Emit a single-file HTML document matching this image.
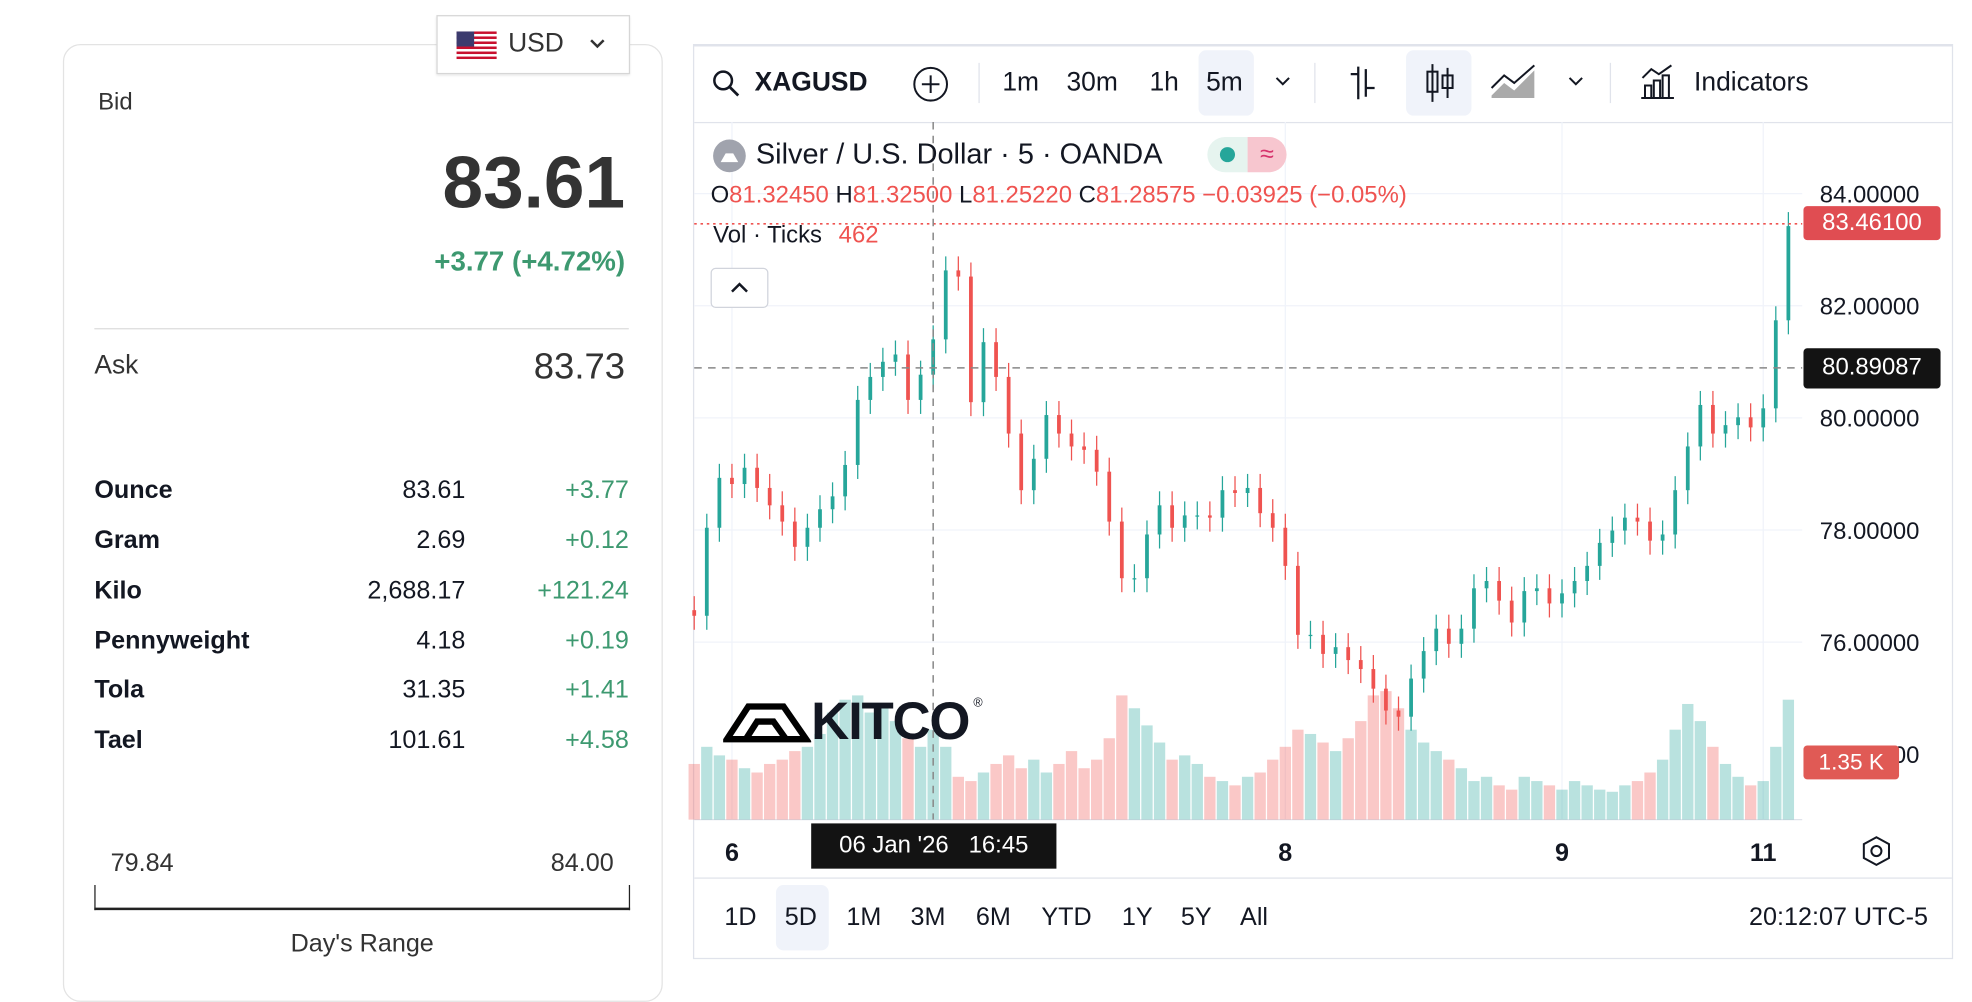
<!DOCTYPE html>
<html><head><meta charset="utf-8">
<style>
html,body{margin:0;padding:0;background:#fff;overflow:hidden;width:1972px;height:978px}
#root{position:absolute;left:0;top:0;width:1568px;height:778px;transform-origin:0 0;transform:scale(1.25765,1.2571);font-family:"Liberation Sans",sans-serif;color:#131722}
.abs{position:absolute;white-space:nowrap}
.r{text-align:right}
.g{color:#3d9970}
.card{position:absolute;left:50px;top:35px;width:475px;height:760px;border:1px solid #e3e3e3;border-radius:14px}
.row{position:absolute;left:75px;width:425px;height:24px;font-size:20px}
.row b{position:absolute;left:0}
.row .v{position:absolute;right:130px}
.row .c{position:absolute;right:0;color:#3d9970}
.tb{position:absolute;top:40px;height:52px;line-height:52px;font-size:21px}
.sep{position:absolute;top:50px;width:1px;height:32px;background:#e0e3eb}
.bt{position:absolute;top:704px;height:52px;line-height:52px;font-size:20px}
</style></head><body>
<div id="root">
 <div class="card"></div>
 <div class="abs" style="left:347px;top:12px;width:152px;height:45px;border:1px solid #d6d6d6;background:#fff;box-shadow:0 1px 2px rgba(0,0,0,.1)">
  <svg style="position:absolute;left:15px;top:12px" width="32" height="22"><rect width="32" height="22" fill="#fff"/><g fill="#c8102e"><rect y="0" width="32" height="2"/><rect y="4" width="32" height="2"/><rect y="8" width="32" height="2"/><rect y="12" width="32" height="2"/><rect y="16" width="32" height="2"/><rect y="20" width="32" height="2"/></g><rect width="14" height="12" fill="#3c3b6e"/></svg>
  <span class="abs" style="left:56px;top:10px;font-size:21px;color:#333">USD</span>
  <svg style="position:absolute;left:120px;top:17px" width="14" height="10"><path d="M2 2 L7 7 L12 2" stroke="#333" stroke-width="2" fill="none"/></svg>
 </div>
 <div class="abs" style="left:78px;top:71px;font-size:19px;color:#333">Bid</div>
 <div class="abs r" style="right:1071px;top:112px;font-size:58px;font-weight:bold;color:#333">83.61</div>
 <div class="abs r g" style="right:1071px;top:195px;font-size:22px;font-weight:bold">+3.77 (+4.72%)</div>
 <div class="abs" style="left:75px;top:261px;width:425px;height:1px;background:#ddd"></div>
 <div class="abs" style="left:75px;top:279px;font-size:21px;color:#333">Ask</div>
 <div class="abs r" style="right:1071px;top:276px;font-size:29px;color:#333">83.73</div>
 <div class="row" style="top:379px"><b>Ounce</b><span class="v">83.61</span><span class="c">+3.77</span></div>
 <div class="row" style="top:419px"><b>Gram</b><span class="v">2.69</span><span class="c">+0.12</span></div>
 <div class="row" style="top:459px"><b>Kilo</b><span class="v">2,688.17</span><span class="c">+121.24</span></div>
 <div class="row" style="top:499px"><b>Pennyweight</b><span class="v">4.18</span><span class="c">+0.19</span></div>
 <div class="row" style="top:538px"><b>Tola</b><span class="v">31.35</span><span class="c">+1.41</span></div>
 <div class="row" style="top:578px"><b>Tael</b><span class="v">101.61</span><span class="c">+4.58</span></div>
 <div class="abs" style="left:88px;top:676px;font-size:20px;color:#333">79.84</div>
 <div class="abs r" style="right:1080px;top:676px;font-size:20px;color:#333">84.00</div>
 <div class="abs" style="left:75px;top:704px;width:424px;height:18px;border:1px solid #222;border-top:none;border-bottom:2px solid #222"></div>
 <div class="abs" style="left:188px;width:200px;text-align:center;top:740px;font-size:20px;color:#333">Day's Range</div>

 <div class="abs" style="left:551px;top:35px;width:1000px;height:725px;border:1px solid #e0e3eb;border-top:2px solid #e0e3eb"></div>
 <div class="abs" style="left:552px;top:97px;width:1000px;height:1px;background:#e0e3eb"></div>
 <div class="abs" style="left:552px;top:698px;width:1000px;height:1px;background:#e0e3eb"></div>
 <svg class="abs" style="left:566px;top:55px" width="24" height="24"><circle cx="9" cy="9" r="7" stroke="#131722" stroke-width="2" fill="none"/><path d="M14 14 L21 21" stroke="#131722" stroke-width="2.2"/></svg>
 <div class="tb" style="left:600px;font-weight:bold">XAGUSD</div>
 <svg class="abs" style="left:725px;top:52px" width="30" height="30"><circle cx="15" cy="15" r="13" stroke="#131722" stroke-width="1.6" fill="none"/><path d="M15 8 V22 M8 15 H22" stroke="#131722" stroke-width="1.6"/></svg>
 <div class="sep" style="left:778px"></div>
 <div class="tb" style="left:797px">1m</div>
 <div class="tb" style="left:848px">30m</div>
 <div class="tb" style="left:914px">1h</div>
 <div class="abs" style="left:953px;top:40px;width:44px;height:52px;background:#f0f3fa;border-radius:6px"></div>
 <div class="tb" style="left:959px">5m</div>
 <svg class="abs" style="left:1013px;top:60px" width="14" height="10"><path d="M2 2 L7 7 L12 2" stroke="#131722" stroke-width="1.6" fill="none"/></svg>
 <div class="sep" style="left:1045px"></div>
 <svg class="abs" style="left:1070px;top:50px" width="30" height="32"><path d="M10 3 V29 M4 9 H10 M16 5 V27 M16 20 H23" stroke="#131722" stroke-width="1.8" fill="none"/></svg>
 <div class="abs" style="left:1118px;top:40px;width:52px;height:52px;background:#f0f3fa;border-radius:6px"></div>
 <svg class="abs" style="left:1130px;top:48px" width="30" height="36"><path d="M9 3 V33 M21 6 V30" stroke="#131722" stroke-width="1.6"/><rect x="5" y="9" width="8" height="16" fill="none" stroke="#131722" stroke-width="1.6"/><rect x="17" y="12" width="8" height="10" fill="none" stroke="#131722" stroke-width="1.6"/></svg>
 <svg class="abs" style="left:1184px;top:50px" width="40" height="30"><path d="M2 26 L12 16 L20 22 L36 6 L36 28 L2 28 Z" fill="#555" opacity=".5"/><path d="M2 20 L12 10 L20 16 L36 2" stroke="#131722" stroke-width="1.6" fill="none"/></svg>
 <svg class="abs" style="left:1246px;top:60px" width="14" height="10"><path d="M2 2 L7 7 L12 2" stroke="#131722" stroke-width="1.6" fill="none"/></svg>
 <div class="sep" style="left:1280px"></div>
 <svg class="abs" style="left:1303px;top:50px" width="30" height="30"><path d="M2 28 H28 M5 28 V18 H10 V28 M12 28 V14 H17 V28 M19 28 V10 H24 V28 M3 12 L10 5 L16 9 L26 2" stroke="#131722" stroke-width="1.6" fill="none"/></svg>
 <div class="tb" style="left:1347px">Indicators</div>

 <svg class="abs" id="chart" style="left:0;top:0" width="1568" height="778"></svg>

 <svg class="abs" style="left:566px;top:110px" width="28" height="28"><circle cx="14" cy="14" r="13" fill="#a0a3ad"/><path d="M7 19 L11 12 H17 L21 19 Z" fill="#fff"/></svg>
 <div class="abs" style="left:601px;top:109px;font-size:23px">Silver / U.S. Dollar · 5 · OANDA</div>
 <div class="abs" style="left:960px;top:109px;width:32px;height:28px;background:#e6f4ef;border-radius:14px 0 0 14px"><div style="position:absolute;left:10px;top:8px;width:12px;height:12px;border-radius:6px;background:#26a69a"></div></div>
 <div class="abs" style="left:992px;top:109px;width:31px;height:28px;background:#f7c6cf;border-radius:0 14px 14px 0;color:#d6336c;font-size:20px;text-align:center;line-height:28px">≈</div>
 <div class="abs" style="left:565px;top:145px;font-size:19px;color:#131722">O<span style="color:#ef5350">81.32450</span> H<span style="color:#ef5350">81.32500</span> L<span style="color:#ef5350">81.25220</span> C<span style="color:#ef5350">81.28575 −0.03925 (−0.05%)</span></div>
 <div class="abs" style="left:567px;top:177px;font-size:19px">Vol · Ticks <span style="color:#ef5350;margin-left:8px">462</span></div>
 <div class="abs" style="left:565px;top:213px;width:44px;height:30px;border:1px solid #d1d4dc;border-radius:4px;background:#fff"><svg width="44" height="30"><path d="M16 18 L22 12 L28 18" stroke="#131722" stroke-width="2" fill="none"/></svg></div>

 <div class="abs" style="left:575px;top:552px">
  <svg width="70" height="40" style="position:absolute;left:0;top:2px"><path d="M3 34 L20 8 H48 L66 34 Z M18 34 L27 20 H40 L50 34" stroke="#000" stroke-width="5" fill="none"/></svg>
  <span class="abs" style="left:70px;top:-2px;font-size:42px;font-weight:bold;letter-spacing:-1px">KITCO</span>
  <span class="abs" style="left:199px;top:2px;font-size:10px">®</span>
 </div>

 <div class="abs" style="left:1434px;top:593px;width:76px;height:27px;background:#e05a55;color:#fff;font-size:18px;line-height:27px;text-align:center;border-radius:3px">1.35 K</div>
 <div class="abs" style="left:1434px;top:164px;width:109px;height:27px;background:#e04d52;color:#fff;font-size:19px;line-height:27px;text-align:center;border-radius:3px">83.46100</div>
 <div class="abs" style="left:1434px;top:277px;width:109px;height:32px;background:#131313;color:#fff;font-size:19px;line-height:32px;text-align:center;border-radius:3px">80.89087</div>
 <div class="abs" style="left:645px;top:655px;width:195px;height:36px;background:#131313;color:#fff;font-size:19px;line-height:36px;text-align:center">06 Jan '26 &nbsp;&nbsp;16:45</div>
 <svg class="abs" style="left:1479px;top:664px" width="26" height="26"><path d="M13 2 L23 7.5 V18.5 L13 24 L3 18.5 V7.5 Z" stroke="#131722" stroke-width="1.6" fill="none"/><circle cx="13" cy="13" r="4" stroke="#131722" stroke-width="1.6" fill="none"/></svg>

 <div class="bt" style="left:576px">1D</div>
 <div class="abs" style="left:617px;top:704px;width:42px;height:52px;background:#f0f3fa;border-radius:6px"></div>
 <div class="bt" style="left:624px">5D</div>
 <div class="bt" style="left:673px">1M</div>
 <div class="bt" style="left:724px">3M</div>
 <div class="bt" style="left:776px">6M</div>
 <div class="bt" style="left:828px">YTD</div>
 <div class="bt" style="left:892px">1Y</div>
 <div class="bt" style="left:939px">5Y</div>
 <div class="bt" style="left:986px">All</div>
 <div class="bt r" style="right:35px">20:12:07 UTC-5</div>
</div>
<script>
const closes=[76.47,78.04,78.93,78.82,79.11,78.75,78.44,78.15,77.70,78.04,78.37,78.60,79.16,80.32,80.73,81.00,81.13,80.32,80.77,81.40,82.63,82.52,80.28,81.35,80.73,79.72,78.71,79.27,80.05,79.72,79.49,79.43,79.04,78.15,77.14,77.14,77.92,78.44,78.04,78.26,78.26,78.22,78.71,78.66,78.75,78.30,78.04,77.36,76.13,76.13,75.79,75.91,75.68,75.52,75.17,74.78,74.67,75.35,75.84,76.24,75.97,76.24,76.96,77.09,76.74,76.35,76.91,76.96,76.69,76.87,77.09,77.36,77.77,77.99,78.22,78.15,77.81,77.92,78.71,79.49,80.23,79.72,79.87,80.01,79.83,80.17,81.74,83.42];
const volumes=[1300,1700,1500,1400,1200,1100,1300,1400,1600,1700,2000,2500,2800,2900,2500,2700,2300,1900,1700,2100,1700,1000,900,1100,1300,1500,1200,1400,1100,1300,1600,1200,1400,1900,2900,2600,2200,1800,1400,1500,1300,1000,900,800,1000,1100,1400,1700,2100,2000,1800,1600,1900,2300,2900,3000,2600,2100,1800,1600,1400,1200,900,1000,800,700,1000,900,800,700,900,800,700,650,800,900,1100,1400,2100,2700,2300,1700,1300,1000,800,900,1700,2800];
const priceTicks=[84,82,80,78,76];
const priceTickLabels=["84.00000","82.00000","80.00000","78.00000","76.00000"];
const dayLabels=["6","8","9","11"];
const dayIndex=[3,47,69,85];
const lastPrice=83.461, crossPrice=80.89087, crossIndex=19;

const svg=document.getElementById('chart');
const NS='http://www.w3.org/2000/svg';
const X0=552,X1=1422,PL=97,PB=652;
const xS=i=>X0+i*(X1-X0)/(closes.length-1);
const yS=p=>154+(84-p)*44.6;
const vS=v=>PB-v*(46/1350);
function mk(tag,a){const e=document.createElementNS(NS,tag);for(const k in a)e.setAttribute(k,a[k]);svg.appendChild(e);return e;}
priceTicks.forEach((p,i)=>{
 const l=mk('line',{x1:552,x2:1433,y1:yS(p),y2:yS(p),stroke:'#f0f3fa','stroke-width':1});
 
 
 const t=mk('text',{x:1447,y:yS(p)+7,'font-size':19,fill:'#131722','font-family':'Liberation Sans'});
 t.textContent=priceTickLabels[i];
 
 
});
const t74=mk('text',{x:1447,y:yS(74)+7,'font-size':19,fill:'#131722','font-family':'Liberation Sans'});t74.textContent='74.00000';


dayIndex.forEach((d,i)=>{
 const x=xS(d);
 const l=mk('line',{x1:x,x2:x,y1:PL,y2:PB,stroke:'#f0f3fa','stroke-width':1});
 
 
 const t=mk('text',{x:x,y:685,'font-size':20,'font-weight':'bold',fill:'#131722','text-anchor':'middle','font-family':'Liberation Sans'});
 t.textContent=dayLabels[i];
 
 
});
mk('line',{x1:552,x2:1433,y1:PB,y2:PB,stroke:'#e0e3eb'});
volumes.forEach((v,i)=>{
 const o=i?closes[i-1]:closes[0]+0.1, up=closes[i]>=o;
 const r=mk('rect',{x:xS(i)-4.5,y:vS(v),width:9,height:PB-vS(v),fill:up?'rgba(38,166,154,0.32)':'rgba(239,83,80,0.32)'});
 
 
});
closes.forEach((c,i)=>{
 const o=i?closes[i-1]:c+0.1, up=c>=o;
 const col=up?'#26a69a':'#ef5350';
 const hi=Math.max(o,c)+0.25, lo=Math.min(o,c)-0.25;
 const w=mk('line',{x1:xS(i),x2:xS(i),y1:yS(hi),y2:yS(lo),stroke:col,'stroke-width':1});
 
 
 const top=yS(Math.max(o,c)), h=Math.max(1,yS(Math.min(o,c))-top);
 const b=mk('rect',{x:xS(i)-1.5,y:top,width:3,height:h,fill:col});
 
 
});
const lp=mk('line',{x1:552,x2:1433,y1:yS(lastPrice),y2:yS(lastPrice),stroke:'#ef5350','stroke-width':1.2,'stroke-dasharray':'2 3'});


const ch=mk('line',{x1:552,x2:1433,y1:yS(crossPrice),y2:yS(crossPrice),stroke:'#888','stroke-width':1.2,'stroke-dasharray':'6 5'});


const cv=mk('line',{x1:xS(crossIndex),x2:xS(crossIndex),y1:PL,y2:PB,stroke:'#888','stroke-width':1.2,'stroke-dasharray':'6 5'});


</script>
</body></html>
